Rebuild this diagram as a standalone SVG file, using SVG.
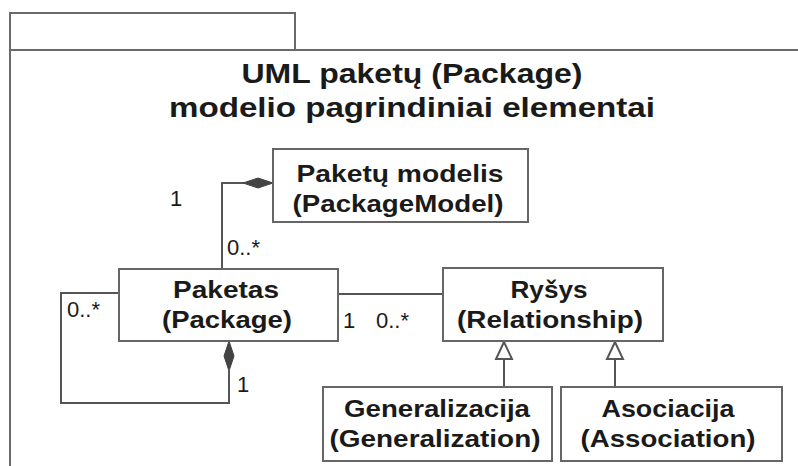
<svg xmlns="http://www.w3.org/2000/svg" width="798" height="466" viewBox="0 0 798 466">
<style>
.frame{fill:none;stroke:#6a6a6a;stroke-width:2}
.box{fill:#fff;stroke:#666;stroke-width:2}
.ln{fill:none;stroke:#555;stroke-width:2}
.t{font-family:"Liberation Sans",Arial,sans-serif;font-weight:bold;font-size:24px;fill:#1a1a1a;text-anchor:middle}
.title{font-family:"Liberation Sans",Arial,sans-serif;font-weight:bold;font-size:28px;fill:#1a1a1a;text-anchor:middle}
.m{font-family:"Liberation Sans",Arial,sans-serif;font-size:22px;fill:#1a1a1a}
.dia{fill:#444;stroke:#444;stroke-width:1}
.tri{fill:#fff;stroke:#555;stroke-width:2}
</style>
<rect width="798" height="466" fill="#fff"/>
<g id="frame">
<path class="frame" d="M10,466 V50 H798 M10,50 V13 H295 V50"/>
<text class="title" x="412" y="83" textLength="341" lengthAdjust="spacingAndGlyphs">UML paketų (Package)</text>
<text class="title" x="412" y="117" textLength="486" lengthAdjust="spacingAndGlyphs">modelio pagrindiniai elementai</text>
</g>
<g id="connectors">
<path class="ln" d="M245,183 H222 V269"/>
<polygon class="dia" points="243,183 258,178 273,183 258,188"/>
<path class="ln" d="M119,293 H61 V403 H229 V371"/>
<polygon class="dia" points="229,341 234,356 229,371 224,356"/>
<path class="ln" d="M338,294 H443"/>
<path class="ln" d="M504,387 V359"/>
<polygon class="tri" points="504,342 496,359 512,359"/>
<path class="ln" d="M615,387 V359"/>
<polygon class="tri" points="615,342 607,359 623,359"/>
<text class="m" x="170" y="206">1</text>
<text class="m" x="227" y="255">0..*</text>
<text class="m" x="67" y="317">0..*</text>
<text class="m" x="237" y="392">1</text>
<text class="m" x="343" y="328">1</text>
<text class="m" x="376" y="328">0..*</text>
</g>
<g id="PackageModel">
<rect class="box" x="273" y="149" width="255" height="73"/>
<text class="t" x="400" y="182" textLength="207" lengthAdjust="spacingAndGlyphs">Paketų modelis</text>
<text class="t" x="398" y="212" textLength="211" lengthAdjust="spacingAndGlyphs">(PackageModel)</text>
</g>
<g id="Package">
<rect class="box" x="119" y="269" width="219" height="72"/>
<text class="t" x="226" y="298" textLength="106" lengthAdjust="spacingAndGlyphs">Paketas</text>
<text class="t" x="227" y="328" textLength="130" lengthAdjust="spacingAndGlyphs">(Package)</text>
</g>
<g id="Relationship">
<rect class="box" x="443" y="268" width="220" height="73"/>
<text class="t" x="549" y="298" textLength="77" lengthAdjust="spacingAndGlyphs">Ryšys</text>
<text class="t" x="550" y="328" textLength="186" lengthAdjust="spacingAndGlyphs">(Relationship)</text>
</g>
<g id="Generalization">
<rect class="box" x="323" y="387" width="229" height="74"/>
<text class="t" x="437" y="417" textLength="186" lengthAdjust="spacingAndGlyphs">Generalizacija</text>
<text class="t" x="435" y="447" textLength="211" lengthAdjust="spacingAndGlyphs">(Generalization)</text>
</g>
<g id="Association">
<rect class="box" x="561" y="387" width="221" height="74"/>
<text class="t" x="668" y="417" textLength="133" lengthAdjust="spacingAndGlyphs">Asociacija</text>
<text class="t" x="668" y="447" textLength="175" lengthAdjust="spacingAndGlyphs">(Association)</text>
</g>
</svg>
